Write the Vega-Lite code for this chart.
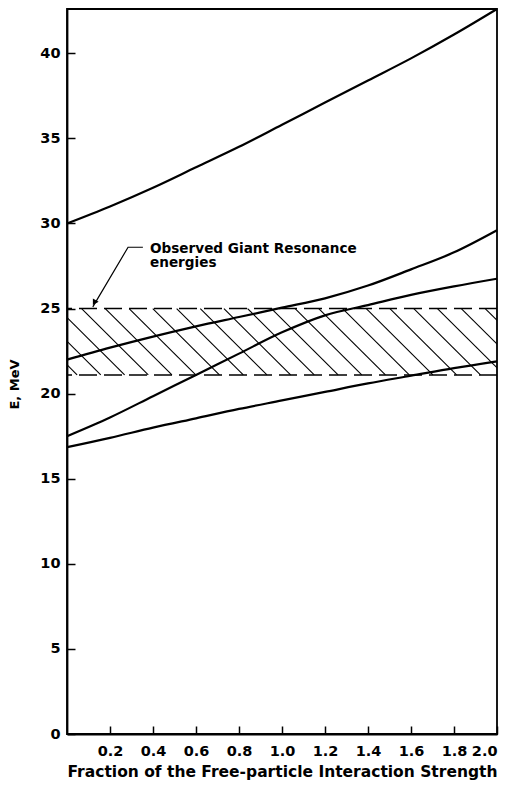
{
  "$schema": "https://vega.github.io/schema/vega-lite/v6.json",
  "width": 430,
  "height": 725,
  "autosize": "none",
  "padding": {"left": 67, "top": 9, "right": 20, "bottom": 57},
  "background": "white",
  "config": {
    "view": {"stroke": "black", "strokeWidth": 1.8},
    "axis": {
      "grid": false,
      "domainColor": "black",
      "domainWidth": 1.8,
      "tickColor": "black",
      "tickWidth": 1.5,
      "labelColor": "black",
      "labelFont": "DejaVu Sans",
      "labelFontSize": 14.5,
      "labelFontWeight": "bold",
      "titleColor": "black",
      "titleFont": "DejaVu Sans",
      "titleFontWeight": "bold"
    }
  },
  "datasets": {
    "curves": [
      {"x": 0.0, "E": 30.0, "curve": "A"}, {"x": 0.2, "E": 31.0, "curve": "A"}, {"x": 0.4, "E": 32.1, "curve": "A"}, {"x": 0.6, "E": 33.3, "curve": "A"}, {"x": 0.8, "E": 34.5, "curve": "A"}, {"x": 1.0, "E": 35.8, "curve": "A"}, {"x": 1.2, "E": 37.1, "curve": "A"}, {"x": 1.4, "E": 38.4, "curve": "A"}, {"x": 1.6, "E": 39.7, "curve": "A"}, {"x": 1.8, "E": 41.1, "curve": "A"}, {"x": 2.0, "E": 42.6, "curve": "A"},
      {"x": 0.0, "E": 22.0, "curve": "B"}, {"x": 0.2, "E": 22.7, "curve": "B"}, {"x": 0.4, "E": 23.35, "curve": "B"}, {"x": 0.6, "E": 23.95, "curve": "B"}, {"x": 0.8, "E": 24.5, "curve": "B"}, {"x": 1.0, "E": 25.05, "curve": "B"}, {"x": 1.2, "E": 25.6, "curve": "B"}, {"x": 1.4, "E": 26.35, "curve": "B"}, {"x": 1.6, "E": 27.3, "curve": "B"}, {"x": 1.8, "E": 28.3, "curve": "B"}, {"x": 2.0, "E": 29.6, "curve": "B"},
      {"x": 0.0, "E": 17.5, "curve": "C"}, {"x": 0.2, "E": 18.6, "curve": "C"}, {"x": 0.4, "E": 19.85, "curve": "C"}, {"x": 0.6, "E": 21.1, "curve": "C"}, {"x": 0.8, "E": 22.35, "curve": "C"}, {"x": 1.0, "E": 23.6, "curve": "C"}, {"x": 1.2, "E": 24.6, "curve": "C"}, {"x": 1.4, "E": 25.2, "curve": "C"}, {"x": 1.6, "E": 25.8, "curve": "C"}, {"x": 1.8, "E": 26.3, "curve": "C"}, {"x": 2.0, "E": 26.75, "curve": "C"},
      {"x": 0.0, "E": 16.85, "curve": "D"}, {"x": 0.2, "E": 17.4, "curve": "D"}, {"x": 0.4, "E": 18.0, "curve": "D"}, {"x": 0.6, "E": 18.55, "curve": "D"}, {"x": 0.8, "E": 19.1, "curve": "D"}, {"x": 1.0, "E": 19.6, "curve": "D"}, {"x": 1.2, "E": 20.1, "curve": "D"}, {"x": 1.4, "E": 20.6, "curve": "D"}, {"x": 1.6, "E": 21.05, "curve": "D"}, {"x": 1.8, "E": 21.5, "curve": "D"}, {"x": 2.0, "E": 21.9, "curve": "D"}
    ],
    "hatch": [
      {"x": -0.263, "E": 25, "x2": 0.047, "E2": 21.1},
      {"x": -0.153, "E": 25, "x2": 0.157, "E2": 21.1},
      {"x": -0.042, "E": 25, "x2": 0.268, "E2": 21.1},
      {"x": 0.068, "E": 25, "x2": 0.378, "E2": 21.1},
      {"x": 0.178, "E": 25, "x2": 0.488, "E2": 21.1},
      {"x": 0.289, "E": 25, "x2": 0.599, "E2": 21.1},
      {"x": 0.399, "E": 25, "x2": 0.709, "E2": 21.1},
      {"x": 0.510, "E": 25, "x2": 0.820, "E2": 21.1},
      {"x": 0.620, "E": 25, "x2": 0.930, "E2": 21.1},
      {"x": 0.730, "E": 25, "x2": 1.040, "E2": 21.1},
      {"x": 0.840, "E": 25, "x2": 1.150, "E2": 21.1},
      {"x": 0.951, "E": 25, "x2": 1.261, "E2": 21.1},
      {"x": 1.061, "E": 25, "x2": 1.371, "E2": 21.1},
      {"x": 1.171, "E": 25, "x2": 1.481, "E2": 21.1},
      {"x": 1.282, "E": 25, "x2": 1.592, "E2": 21.1},
      {"x": 1.392, "E": 25, "x2": 1.702, "E2": 21.1},
      {"x": 1.502, "E": 25, "x2": 1.812, "E2": 21.1},
      {"x": 1.613, "E": 25, "x2": 1.923, "E2": 21.1},
      {"x": 1.723, "E": 25, "x2": 2.033, "E2": 21.1},
      {"x": 1.834, "E": 25, "x2": 2.144, "E2": 21.1},
      {"x": 1.945, "E": 25, "x2": 2.255, "E2": 21.1}
    ],
    "bounds": [{"E": 25.0}, {"E": 21.1}],
    "leader": [
      {"x": 0.353, "E": 28.6, "o": 1},
      {"x": 0.284, "E": 28.6, "o": 2},
      {"x": 0.12, "E": 25.1, "o": 3}
    ],
    "arrow": [{"x": 0.127, "E": 25.35}],
    "notes": [
      {"x": 0.386, "E": 28.5, "label": "Observed Giant Resonance"},
      {"x": 0.386, "E": 27.65, "label": "energies"}
    ]
  },
  "layer": [
    {
      "data": {"name": "hatch"},
      "mark": {"type": "rule", "clip": true, "color": "black", "strokeWidth": 1.1},
      "encoding": {
        "x": {"field": "x", "type": "quantitative", "scale": {"domain": [0, 2], "nice": false, "zero": false},
          "axis": {"values": [0.2, 0.4, 0.6, 0.8, 1.0, 1.2, 1.4, 1.6, 1.8, 2.0], "format": ".1f", "tickSize": -8, "labelPadding": 18, "title": "Fraction of the Free-particle Interaction Strength", "titleFontSize": 15.5, "titlePadding": 7}},
        "y": {"field": "E", "type": "quantitative", "scale": {"domain": [0, 42.6], "nice": false, "zero": false},
          "axis": {"values": [0, 5, 10, 15, 20, 25, 30, 35, 40], "tickSize": -8, "labelPadding": 15, "title": "E, MeV", "titleFontSize": 13, "titleAngle": -90, "titleX": -53, "titleY": 375, "titleAlign": "center", "titleBaseline": "middle"}},
        "x2": {"field": "x2"},
        "y2": {"field": "E2"}
      }
    },
    {
      "data": {"name": "bounds"},
      "mark": {"type": "rule", "color": "black", "strokeWidth": 1.5, "strokeDash": [18, 7]},
      "encoding": {"y": {"field": "E", "type": "quantitative"}}
    },
    {
      "data": {"name": "curves"},
      "mark": {"type": "line", "color": "black", "strokeWidth": 2.2, "interpolate": "monotone"},
      "encoding": {
        "x": {"field": "x", "type": "quantitative"},
        "y": {"field": "E", "type": "quantitative"},
        "detail": {"field": "curve"}
      }
    },
    {
      "data": {"name": "leader"},
      "mark": {"type": "line", "color": "black", "strokeWidth": 1.2},
      "encoding": {
        "x": {"field": "x", "type": "quantitative"},
        "y": {"field": "E", "type": "quantitative"},
        "order": {"field": "o"}
      }
    },
    {
      "data": {"name": "arrow"},
      "mark": {"type": "point", "shape": "triangle-up", "filled": true, "color": "black", "size": 45, "angle": 210, "opacity": 1},
      "encoding": {
        "x": {"field": "x", "type": "quantitative"},
        "y": {"field": "E", "type": "quantitative"}
      }
    },
    {
      "data": {"name": "notes"},
      "mark": {"type": "text", "align": "left", "baseline": "middle", "font": "DejaVu Sans", "fontSize": 13.6, "fontWeight": "bold", "color": "black"},
      "encoding": {
        "x": {"field": "x", "type": "quantitative"},
        "y": {"field": "E", "type": "quantitative"},
        "text": {"field": "label"}
      }
    }
  ]
}
